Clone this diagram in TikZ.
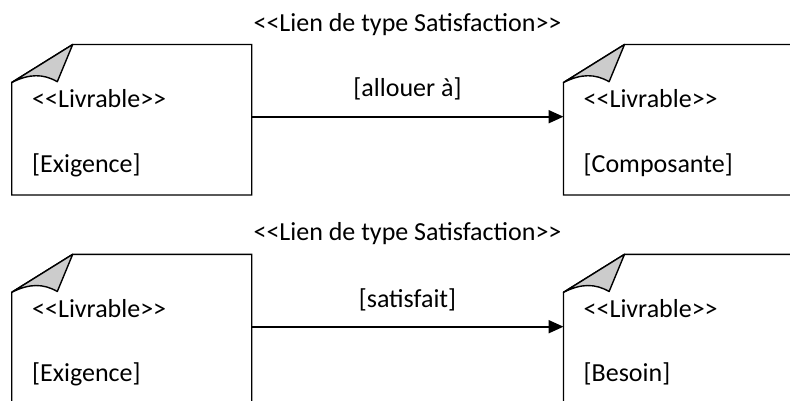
\documentclass[tikz,border=0pt]{standalone}
\usepackage{fontspec}
\setmainfont{Carlito}[Ligatures=TeXOff]
\usetikzlibrary{arrows.meta}
\tikzset{
  docnode/.style={rectangle, draw=none, inner sep=0pt, outer sep=0pt, anchor=north west},
  boxline/.style={draw=black, line width=1.4pt, fill=white, line join=miter},
  foldline/.style={draw=black, line width=1.4pt, fill=black!20, line join=round},
  lbl/.style={inner sep=0pt, anchor=base west},
  clbl/.style={inner sep=0pt, anchor=base},
  link/.style={line width=2pt, -{Triangle[length=15pt,width=13pt]}, shorten >=0pt}
}
\newcommand\livdoc[1]{%
  \path[boxline] ([yshift=-38pt]#1.north west) -- (#1.south west) -- (#1.south east)
     -- (#1.north east) -- ([xshift=61pt]#1.north west) -- cycle;
  \path[foldline] ([yshift=-38pt]#1.north west)
     .. controls +(18pt,9pt) and +(-14pt,8pt) .. ([xshift=45.6pt,yshift=-37.2pt]#1.north west)
     -- ([xshift=61pt]#1.north west) -- cycle;
}
\begin{document}
\begin{tikzpicture}[x=1pt,y=-1pt, font=\fontsize{26}{31}\selectfont]
\useasboundingbox (0,0) rectangle (790,401);
\clip (0,0) rectangle (790,401);
% boxes
\node[docnode, minimum width=240pt, minimum height=150.5pt] (ex1) at (11.7,44.5) {};
\node[docnode, minimum width=260pt, minimum height=150.5pt] (comp) at (563.5,44.5) {};
\node[docnode, minimum width=240pt, minimum height=170pt] (ex2) at (11.7,254.3) {};
\node[docnode, minimum width=260pt, minimum height=170pt] (bes) at (563.5,254.3) {};
\livdoc{ex1}
\livdoc{comp}
\livdoc{ex2}
\livdoc{bes}
% texts
\node[lbl] (t1a) at (32,107.5) {<<Livrable>>};
\node[lbl] (t1b) at (32,172) {[Exigence]};
\node[lbl] (t2a) at (583.5,107.5) {<<Livrable>>};
\node[lbl] (t2b) at (583.5,172) {[Composante]};
\node[lbl] (t3a) at (32,317.3) {<<Livrable>>};
\node[lbl] (t3b) at (32,381.8) {[Exigence]};
\node[lbl] (t4a) at (583.5,317.3) {<<Livrable>>};
\node[lbl] (t4b) at (583.5,381.8) {[Besoin]};
\node[clbl] (st1) at (407.5,31.7) {<<Lien de type Satisfaction>>};
\node[clbl] (st2) at (407.5,240.7) {<<Lien de type Satisfaction>>};
\node[clbl] (r1) at (407.5,96.7) {[allouer à]};
\node[clbl] (r2) at (407.5,307.3) {[satisfait]};
% connectors
\coordinate (a1) at ([yshift=-72.2pt]ex1.north east);
\coordinate (b1) at ([yshift=-72.2pt]comp.north west);
\coordinate (a2) at ([yshift=-72.4pt]ex2.north east);
\coordinate (b2) at ([yshift=-72.4pt]bes.north west);
\draw[link] (a1) -- (b1);
\draw[link] (a2) -- (b2);
\end{tikzpicture}
\end{document}
